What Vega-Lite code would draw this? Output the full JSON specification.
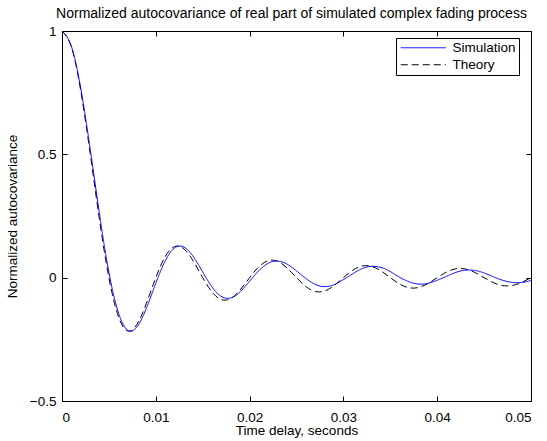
{
  "$schema": "https://vega.github.io/schema/vega-lite/v6.json",
  "width": 469,
  "height": 370,
  "autosize": {"type": "none"},
  "padding": {"left": 62, "top": 31, "right": 16, "bottom": 40},
  "background": "white",
  "title": {"text": "Normalized autocovariance of real part of simulated complex fading process", "font": "Liberation Sans", "fontSize": 14, "fontWeight": "normal", "color": "black", "anchor": "middle", "offset": 3, "dx": -5},
  "config": {
    "view": {"stroke": "black", "strokeWidth": 1},
    "axis": {"grid": false, "domainColor": "black", "tickColor": "black", "labelColor": "black", "titleColor": "black", "labelFont": "Liberation Sans", "titleFont": "Liberation Sans", "labelFontSize": 13.5, "titleFontSize": 13.5, "titleFontWeight": "normal", "tickSize": -5},
    "legend": {"labelFont": "Liberation Sans", "labelFontSize": 13.5, "labelColor": "black"}
  },
  "data": {"values": [
    {"tau": 0, "series": "Theory", "value": 1},
    {"tau": 0.001, "series": "Theory", "value": 0.93549},
    {"tau": 0.002, "series": "Theory", "value": 0.75683},
    {"tau": 0.003, "series": "Theory", "value": 0.50455},
    {"tau": 0.004, "series": "Theory", "value": 0.23387},
    {"tau": 0.005, "series": "Theory", "value": 0},
    {"tau": 0.006, "series": "Theory", "value": -0.15591},
    {"tau": 0.007, "series": "Theory", "value": -0.21624},
    {"tau": 0.008, "series": "Theory", "value": -0.18921},
    {"tau": 0.009, "series": "Theory", "value": -0.10394},
    {"tau": 0.010, "series": "Theory", "value": 0},
    {"tau": 0.011, "series": "Theory", "value": 0.08504},
    {"tau": 0.012, "series": "Theory", "value": 0.12614},
    {"tau": 0.013, "series": "Theory", "value": 0.11643},
    {"tau": 0.014, "series": "Theory", "value": 0.06682},
    {"tau": 0.015, "series": "Theory", "value": 0},
    {"tau": 0.016, "series": "Theory", "value": -0.05847},
    {"tau": 0.017, "series": "Theory", "value": -0.08904},
    {"tau": 0.018, "series": "Theory", "value": -0.08409},
    {"tau": 0.019, "series": "Theory", "value": -0.04924},
    {"tau": 0.020, "series": "Theory", "value": 0},
    {"tau": 0.021, "series": "Theory", "value": 0.04455},
    {"tau": 0.022, "series": "Theory", "value": 0.06880},
    {"tau": 0.023, "series": "Theory", "value": 0.06581},
    {"tau": 0.024, "series": "Theory", "value": 0.03898},
    {"tau": 0.025, "series": "Theory", "value": 0},
    {"tau": 0.026, "series": "Theory", "value": -0.03598},
    {"tau": 0.027, "series": "Theory", "value": -0.05606},
    {"tau": 0.028, "series": "Theory", "value": -0.05406},
    {"tau": 0.029, "series": "Theory", "value": -0.03226},
    {"tau": 0.030, "series": "Theory", "value": 0},
    {"tau": 0.031, "series": "Theory", "value": 0.03018},
    {"tau": 0.032, "series": "Theory", "value": 0.04730},
    {"tau": 0.033, "series": "Theory", "value": 0.04587},
    {"tau": 0.034, "series": "Theory", "value": 0.02751},
    {"tau": 0.035, "series": "Theory", "value": 0},
    {"tau": 0.036, "series": "Theory", "value": -0.02599},
    {"tau": 0.037, "series": "Theory", "value": -0.04091},
    {"tau": 0.038, "series": "Theory", "value": -0.03983},
    {"tau": 0.039, "series": "Theory", "value": -0.02399},
    {"tau": 0.040, "series": "Theory", "value": 0},
    {"tau": 0.041, "series": "Theory", "value": 0.02282},
    {"tau": 0.042, "series": "Theory", "value": 0.03604},
    {"tau": 0.043, "series": "Theory", "value": 0.03520},
    {"tau": 0.044, "series": "Theory", "value": 0.02126},
    {"tau": 0.045, "series": "Theory", "value": 0},
    {"tau": 0.046, "series": "Theory", "value": -0.02034},
    {"tau": 0.047, "series": "Theory", "value": -0.03221},
    {"tau": 0.048, "series": "Theory", "value": -0.03153},
    {"tau": 0.049, "series": "Theory", "value": -0.01909},
    {"tau": 0.050, "series": "Theory", "value": 0},
    {"tau": 0, "series": "Simulation", "value": 1},
    {"tau": 0.00102, "series": "Simulation", "value": 0.93549},
    {"tau": 0.00205, "series": "Simulation", "value": 0.75683},
    {"tau": 0.00307, "series": "Simulation", "value": 0.50455},
    {"tau": 0.00409, "series": "Simulation", "value": 0.23387},
    {"tau": 0.00511, "series": "Simulation", "value": 0},
    {"tau": 0.00614, "series": "Simulation", "value": -0.15591},
    {"tau": 0.00716, "series": "Simulation", "value": -0.21624},
    {"tau": 0.00818, "series": "Simulation", "value": -0.18921},
    {"tau": 0.00920, "series": "Simulation", "value": -0.10394},
    {"tau": 0.01023, "series": "Simulation", "value": 0},
    {"tau": 0.01125, "series": "Simulation", "value": 0.08504},
    {"tau": 0.01227, "series": "Simulation", "value": 0.12614},
    {"tau": 0.01329, "series": "Simulation", "value": 0.11643},
    {"tau": 0.01432, "series": "Simulation", "value": 0.06682},
    {"tau": 0.01534, "series": "Simulation", "value": 0.001},
    {"tau": 0.01636, "series": "Simulation", "value": -0.0553},
    {"tau": 0.01738, "series": "Simulation", "value": -0.0825},
    {"tau": 0.01841, "series": "Simulation", "value": -0.0750},
    {"tau": 0.01943, "series": "Simulation", "value": -0.0398},
    {"tau": 0.02045, "series": "Simulation", "value": 0.006},
    {"tau": 0.02147, "series": "Simulation", "value": 0.0453},
    {"tau": 0.02250, "series": "Simulation", "value": 0.0658},
    {"tau": 0.02352, "series": "Simulation", "value": 0.0630},
    {"tau": 0.02454, "series": "Simulation", "value": 0.0412},
    {"tau": 0.02556, "series": "Simulation", "value": 0.010},
    {"tau": 0.02659, "series": "Simulation", "value": -0.0188},
    {"tau": 0.02761, "series": "Simulation", "value": -0.0348},
    {"tau": 0.02863, "series": "Simulation", "value": -0.0332},
    {"tau": 0.02965, "series": "Simulation", "value": -0.0158},
    {"tau": 0.03068, "series": "Simulation", "value": 0.008},
    {"tau": 0.03170, "series": "Simulation", "value": 0.0315},
    {"tau": 0.03272, "series": "Simulation", "value": 0.0449},
    {"tau": 0.03374, "series": "Simulation", "value": 0.0438},
    {"tau": 0.03477, "series": "Simulation", "value": 0.0295},
    {"tau": 0.03579, "series": "Simulation", "value": 0.006},
    {"tau": 0.03681, "series": "Simulation", "value": -0.0138},
    {"tau": 0.03783, "series": "Simulation", "value": -0.0251},
    {"tau": 0.03886, "series": "Simulation", "value": -0.0243},
    {"tau": 0.03988, "series": "Simulation", "value": -0.0122},
    {"tau": 0.04090, "series": "Simulation", "value": 0.004},
    {"tau": 0.04192, "series": "Simulation", "value": 0.0204},
    {"tau": 0.04295, "series": "Simulation", "value": 0.0300},
    {"tau": 0.04397, "series": "Simulation", "value": 0.0293},
    {"tau": 0.04499, "series": "Simulation", "value": 0.0193},
    {"tau": 0.04601, "series": "Simulation", "value": 0.003},
    {"tau": 0.04704, "series": "Simulation", "value": -0.0112},
    {"tau": 0.04806, "series": "Simulation", "value": -0.0195},
    {"tau": 0.04908, "series": "Simulation", "value": -0.0191},
    {"tau": 0.05, "series": "Simulation", "value": -0.0116}
  ]},
  "layer": [
    {
      "mark": {"type": "line", "interpolate": "natural", "strokeWidth": 1, "clip": true},
      "encoding": {
        "x": {"field": "tau", "type": "quantitative", "scale": {"domain": [0, 0.05], "nice": false, "zero": false}, "axis": {"orient": "bottom", "title": "Time delay, seconds", "values": [0, 0.01, 0.02, 0.03, 0.04, 0.05], "format": "~g", "labelPadding": 14, "titlePadding": 0}},
        "y": {"field": "value", "type": "quantitative", "scale": {"domain": [-0.5, 1], "nice": false, "zero": false}, "axis": {"orient": "left", "title": "Normalized autocovariance", "values": [-0.5, 0, 0.5, 1], "format": "~g", "labelPadding": 11, "titlePadding": 10}},
        "color": {"field": "series", "type": "nominal", "scale": {"domain": ["Simulation", "Theory"], "range": ["#0000ff", "#000000"]}, "legend": {"title": null, "orient": "none", "legendX": 334, "legendY": 7, "strokeColor": "black", "fillColor": "white", "padding": 3, "symbolType": "M-1,0H8", "symbolSize": 100, "symbolStrokeWidth": 1, "rowPadding": 2, "labelOffset": 40}},
        "strokeDash": {"field": "series", "type": "nominal", "scale": {"domain": ["Simulation", "Theory"], "range": [[1, 0], [7, 4]]}, "legend": {"title": null, "orient": "none", "legendX": 334, "legendY": 7, "strokeColor": "black", "fillColor": "white", "padding": 3, "symbolType": "M-1,0H8", "symbolSize": 100, "symbolStrokeWidth": 1, "rowPadding": 2, "labelOffset": 40}}
      }
    },
    {
      "mark": {"type": "rule", "opacity": 0},
      "data": {"values": [{"tau": 0, "value": 0}]},
      "encoding": {
        "x": {"field": "tau", "type": "quantitative", "axis": {"orient": "top", "labels": false, "title": null, "domain": false, "values": [0, 0.01, 0.02, 0.03, 0.04, 0.05]}},
        "y": {"field": "value", "type": "quantitative", "axis": {"orient": "right", "labels": false, "title": null, "domain": false, "values": [-0.5, 0, 0.5, 1]}}
      }
    }
  ],
  "resolve": {"axis": {"x": "independent", "y": "independent"}}
}
